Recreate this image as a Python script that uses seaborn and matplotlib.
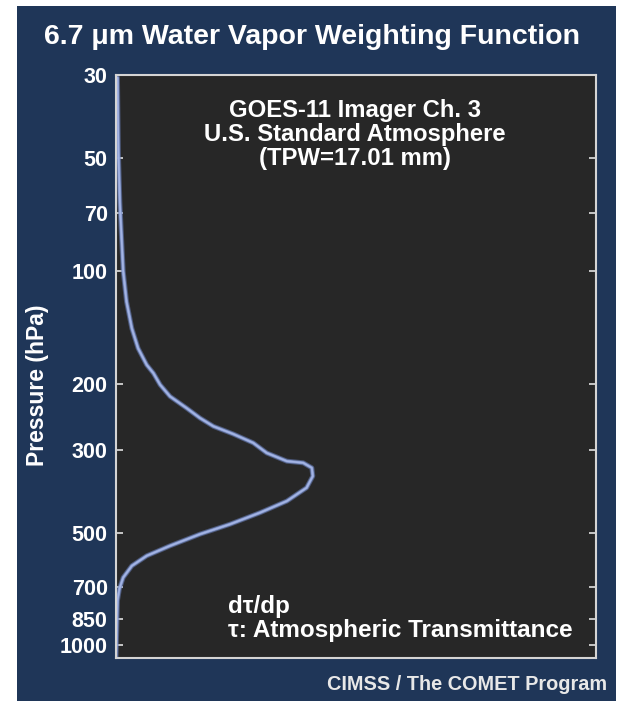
import matplotlib
matplotlib.use("Agg")
import matplotlib.pyplot as plt
import matplotlib.patheffects as pe
from matplotlib.patches import Rectangle
from matplotlib.ticker import FixedLocator, FixedFormatter, NullLocator
import seaborn as sns
import pandas as pd

# Weighting function dτ/dp (relative units, fraction of the panel width)
pressure = [30.5, 48.3, 65.5, 83.7, 100.2, 120.9, 142.4, 160.9, 178.2, 187.6,
            201.4, 216.3, 232.4, 247.1, 260.0, 272.5, 287.9, 306.2, 322.1,
            325.4, 335.6, 353.1, 379.3, 411.6, 442.1, 474.6, 504.5, 542.0,
            576.3, 612.9, 658.5, 706.8, 759.3, 1080.0]
weight = [0.003, 0.005, 0.008, 0.012, 0.015, 0.022, 0.033, 0.046, 0.064, 0.078,
          0.092, 0.1125, 0.147, 0.175, 0.203, 0.244, 0.286, 0.314, 0.356,
          0.390, 0.408, 0.410, 0.397, 0.356, 0.300, 0.2375, 0.175, 0.1125,
          0.064, 0.033, 0.015, 0.007, 0.003, 0.0]

pressure_ticks = [30, 50, 70, 100, 200, 300, 500, 700, 850, 1000]
pressure_labels = ["30", "50", "70", "100", "200", "300", "500", "700", "850", "1000"]

title = "6.7 μm Water Vapor Weighting Function"
info_lines = ["GOES-11 Imager Ch. 3", "U.S. Standard Atmosphere", "(TPW=17.01 mm)"]
note_lines = ["dτ/dp", "τ: Atmospheric Transmittance"]
credit = "CIMSS / The COMET Program"

NAVY = "#1f3658"
PANEL = "#272727"
CURVE = "#a4b4e4"
GLOW = "#6a80bb"
FONT = "Liberation Sans"

sns.set_theme(style="dark")
plt.rcParams["font.family"] = [FONT, "DejaVu Sans"]
plt.rcParams["font.weight"] = "bold"

fig = plt.figure(figsize=(6.19, 7.01), dpi=100, facecolor="white")
fig.patches.append(Rectangle((17 / 619, 0), (616 - 17) / 619, (701 - 6) / 701,
                             transform=fig.transFigure, facecolor=NAVY,
                             edgecolor="none", zorder=-10))

ax = fig.add_axes([116 / 619, 1 - 658 / 701, (596 - 116) / 619, (658 - 75) / 701])
ax.set_zorder(1)
ax.set_facecolor(PANEL)

df = pd.DataFrame({"pressure": pressure, "weight": weight})
sns.lineplot(data=df, x="weight", y="pressure", orient="y", sort=False,
             color=CURVE, linewidth=1.2, ax=ax,
             path_effects=[pe.Stroke(linewidth=3.6, foreground=GLOW, alpha=0.55),
                           pe.Stroke(linewidth=2.2, foreground="#889dd4", alpha=0.9),
                           pe.Normal()])
for line in ax.get_lines():
    line.set_solid_joinstyle("round")
    line.set_solid_capstyle("round")

ax.set_yscale("log")
ax.set_ylim(1080, 30)
ax.set_xlim(0.0, 1.0)
ax.yaxis.set_major_locator(FixedLocator(pressure_ticks))
ax.yaxis.set_major_formatter(FixedFormatter(pressure_labels))
ax.yaxis.set_minor_locator(NullLocator())
ax.set_xticks([])
ax.grid(False)

ax.tick_params(axis="y", which="major", direction="in", length=5, width=1.2,
               color="#e0e0e0", left=True, right=True, labelsize=15.5,
               labelcolor="white", pad=6)
for lab in ax.get_yticklabels():
    lab.set_fontweight("bold")

for side in ["left", "right", "top", "bottom"]:
    ax.spines[side].set_visible(True)
    ax.spines[side].set_color("#d4d4d4")
    ax.spines[side].set_linewidth(1.5)

ax.set_xlabel("")
ax.set_ylabel("Pressure (hPa)", color="white", fontsize=16.5, fontweight="bold")
ax.yaxis.set_label_coords((49 - 116) / 480, 1 - (385 - 75) / 583)

fig.text(312 / 619, 1 - 37 / 701, title, ha="center", va="center",
         color="white", fontsize=20.5, fontweight="bold")

for i, line in enumerate(info_lines):
    fig.text(355 / 619, 1 - (111 + 24 * i) / 701, line, ha="center",
             va="center", color="white", fontsize=17.2, fontweight="bold")

for i, line in enumerate(note_lines):
    fig.text(228 / 619, 1 - (607 + 23.5 * i) / 701, line, ha="left",
             va="center", color="white", fontsize=17.5, fontweight="bold")

fig.text(607 / 619, 1 - 684 / 701, credit, ha="right", va="center",
         color="#e8e8e8", fontsize=14.3, fontweight="bold")

fig.savefig("out.png", dpi=100, facecolor="white")
